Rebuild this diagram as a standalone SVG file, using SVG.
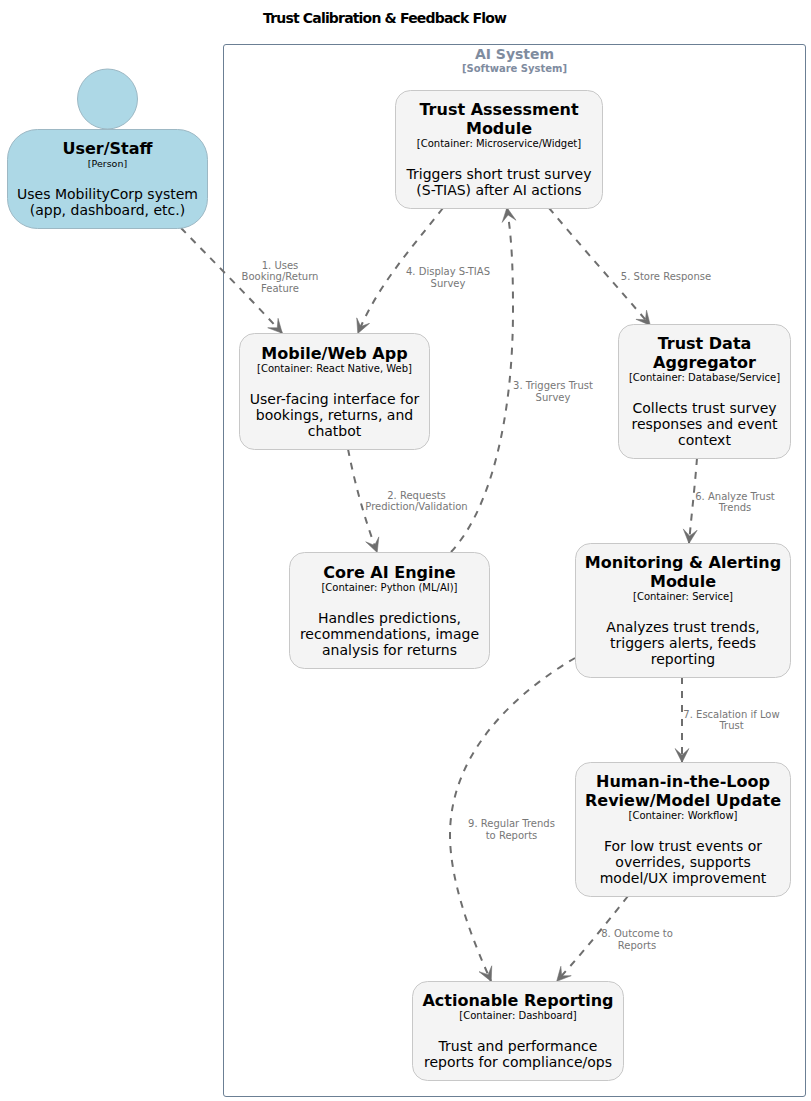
<svg xmlns="http://www.w3.org/2000/svg" width="811" height="1101" viewBox="0 0 811 1101">
<style>
text{font-family:"DejaVu Sans",sans-serif;text-anchor:middle;fill:#000}
.t{font-size:14px;font-weight:bold}
.n{font-size:16px;font-weight:bold}
.s{font-size:10px}
.d{font-size:14px}
.l{font-size:10px;fill:#777}
.box{fill:#F4F4F4;stroke:#C8C8C8;stroke-width:1}
.p{fill:#ADD8E6;stroke:#9DB8C4;stroke-width:1}
.c{fill:none;stroke:#6E6E6E;stroke-width:2;stroke-dasharray:7 7;marker-end:url(#a)}
</style>
<defs>
<marker id="a" markerUnits="userSpaceOnUse" markerWidth="24" markerHeight="24" refX="14" refY="10" orient="auto">
<path d="M14.500 10L0.500 3L7 10L0.500 17Z" fill="#6E6E6E" stroke="#6E6E6E" stroke-width="0.500"/>
</marker>
</defs>
<text class="t" x="385" y="23" textLength="244">Trust Calibration &amp; Feedback Flow</text>
<g id="boundary">
<rect x="223.500" y="44.500" width="582" height="1052" rx="2.500" fill="none" stroke="#6B7F94" stroke-width="1"/>
<text x="514.500" y="59" style="font-size:14px;font-weight:bold;fill:#7F8C9F">AI System</text>
<text x="514.500" y="71.500" style="font-size:10px;font-weight:bold;fill:#7F8C9F">[Software System]</text>
</g>
<g id="connectors">
<path class="c" d="M181 228C210 258 250 298 282 333"/>
<path class="c" d="M443 208C410 250 378 285 358 333"/>
<path class="c" d="M348 449C355 485 365 520 377 552"/>
<path class="c" d="M451 552C490 510 513 420 513 310C513 270 512 240 507 208"/>
<path class="c" d="M549 208C580 245 620 290 650 325"/>
<path class="c" d="M697 458C695 485 692 510 689 543"/>
<path class="c" d="M682 677L682 762"/>
<path class="c" d="M628 896C605 925 585 950 557 981"/>
<path class="c" d="M575 658C520 690 450 750 450 835C450 880 470 935 491 981"/>
<g class="labels">
<text class="l" x="280" y="269">1. Uses</text>
<text class="l" x="280" y="280">Booking/Return</text>
<text class="l" x="280" y="292">Feature</text>
<text class="l" x="448" y="274.500">4. Display S-TIAS</text>
<text class="l" x="448" y="286.500">Survey</text>
<text class="l" x="666" y="280">5. Store Response</text>
<text class="l" x="553" y="389">3. Triggers Trust</text>
<text class="l" x="553" y="401">Survey</text>
<text class="l" x="416.500" y="499">2. Requests</text>
<text class="l" x="416.500" y="510">Prediction/Validation</text>
<text class="l" x="735" y="500">6. Analyze Trust</text>
<text class="l" x="735" y="511">Trends</text>
<text class="l" x="731.500" y="718">7. Escalation if Low</text>
<text class="l" x="731.500" y="729">Trust</text>
<text class="l" x="511.500" y="827">9. Regular Trends</text>
<text class="l" x="511.500" y="839">to Reports</text>
<text class="l" x="637" y="937">8. Outcome to</text>
<text class="l" x="637" y="949">Reports</text>
</g>
</g>
<g id="user-staff">
<circle class="p" cx="107.500" cy="99" r="30"/>
<rect class="p" x="7.500" y="129.500" width="200" height="99" rx="30"/>
<text class="n" x="107.500" y="154">User/Staff</text>
<text class="s" x="107.500" y="167" style="font-size:9.500px">[Person]</text>
<text class="d" x="107.500" y="199">Uses MobilityCorp system</text>
<text class="d" x="107.500" y="215">(app, dashboard, etc.)</text>
</g>
<g id="trust-assessment">
<rect class="box" x="395.500" y="90.500" width="207" height="118" rx="15"/>
<text class="n" x="499" y="115">Trust Assessment</text>
<text class="n" x="499" y="134">Module</text>
<text class="s" x="499" y="147">[Container: Microservice/Widget]</text>
<text class="d" x="499" y="178.500">Triggers short trust survey</text>
<text class="d" x="499" y="195">(S-TIAS) after AI actions</text>
</g>
<g id="mobile-web-app">
<rect class="box" x="239.500" y="333.500" width="190" height="116" rx="15"/>
<text class="n" x="334.500" y="359">Mobile/Web App</text>
<text class="s" x="334.500" y="372">[Container: React Native, Web]</text>
<text class="d" x="334.500" y="403.500">User-facing interface for</text>
<text class="d" x="334.500" y="420">bookings, returns, and</text>
<text class="d" x="334.500" y="436">chatbot</text>
</g>
<g id="core-ai-engine">
<rect class="box" x="289.500" y="552.500" width="200" height="116" rx="15"/>
<text class="n" x="389.500" y="578">Core AI Engine</text>
<text class="s" x="389.500" y="591">[Container: Python (ML/AI)]</text>
<text class="d" x="389.500" y="622.500">Handles predictions,</text>
<text class="d" x="389.500" y="639">recommendations, image</text>
<text class="d" x="389.500" y="655">analysis for returns</text>
</g>
<g id="trust-data-aggregator">
<rect class="box" x="618.500" y="324.500" width="172" height="134" rx="15"/>
<text class="n" x="704.500" y="349">Trust Data</text>
<text class="n" x="704.500" y="368">Aggregator</text>
<text class="s" x="704.500" y="381">[Container: Database/Service]</text>
<text class="d" x="704.500" y="412.500">Collects trust survey</text>
<text class="d" x="704.500" y="429">responses and event</text>
<text class="d" x="704.500" y="445">context</text>
</g>
<g id="monitoring-alerting">
<rect class="box" x="575.500" y="543.500" width="215" height="134" rx="15"/>
<text class="n" x="683" y="568">Monitoring &amp; Alerting</text>
<text class="n" x="683" y="587">Module</text>
<text class="s" x="683" y="600">[Container: Service]</text>
<text class="d" x="683" y="631.500">Analyzes trust trends,</text>
<text class="d" x="683" y="648">triggers alerts, feeds</text>
<text class="d" x="683" y="664">reporting</text>
</g>
<g id="human-in-the-loop">
<rect class="box" x="575.500" y="762.500" width="215" height="134" rx="15"/>
<text class="n" x="683" y="787">Human-in-the-Loop</text>
<text class="n" x="683" y="806">Review/Model Update</text>
<text class="s" x="683" y="819">[Container: Workflow]</text>
<text class="d" x="683" y="850.500">For low trust events or</text>
<text class="d" x="683" y="867">overrides, supports</text>
<text class="d" x="683" y="883">model/UX improvement</text>
</g>
<g id="actionable-reporting">
<rect class="box" x="412.500" y="981.500" width="211" height="99" rx="15"/>
<text class="n" x="518" y="1006">Actionable Reporting</text>
<text class="s" x="518" y="1019">[Container: Dashboard]</text>
<text class="d" x="518" y="1051">Trust and performance</text>
<text class="d" x="518" y="1067">reports for compliance/ops</text>
</g>
</svg>
